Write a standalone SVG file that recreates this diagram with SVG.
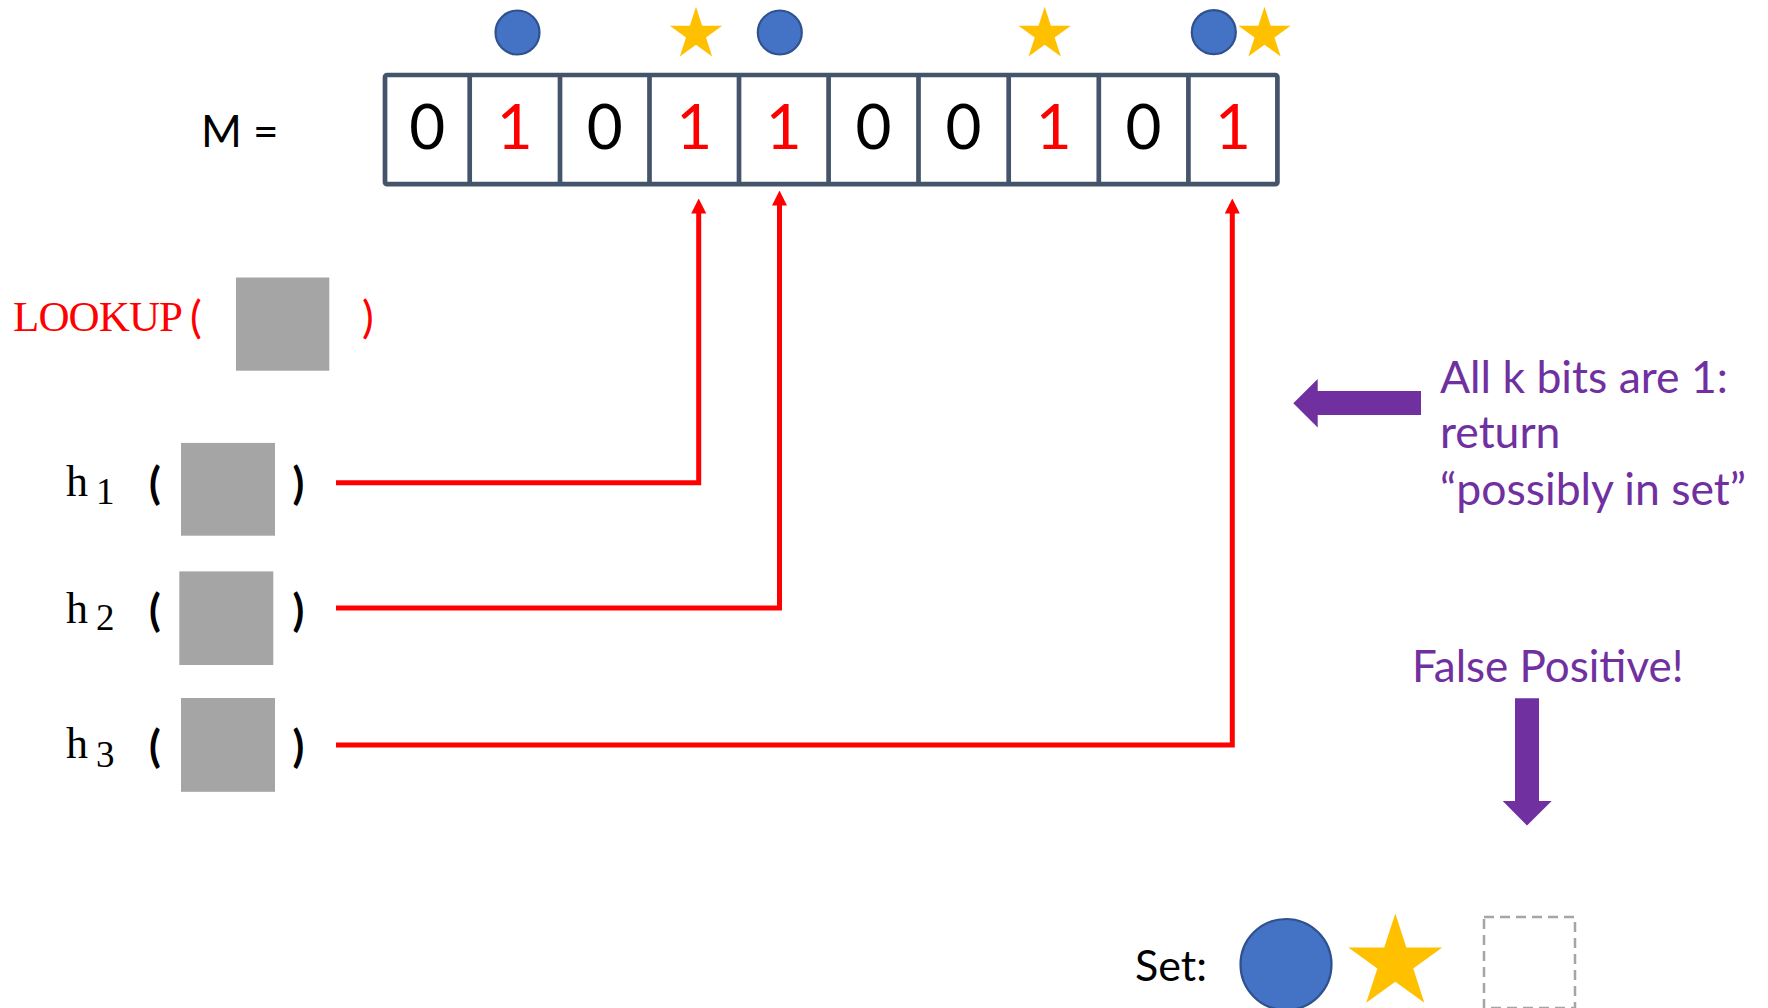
<svg xmlns="http://www.w3.org/2000/svg" width="1768" height="1008" viewBox="0 0 1768 1008">
  <style>
    .sans { font-family: Lato, "Open Sans", "Liberation Sans", sans-serif; }
    .code { font-family: "Liberation Serif", "DejaVu Serif", serif; }
    .bit { font-family: Lato, "Open Sans", "Liberation Sans", sans-serif; font-size: 62px; text-anchor: middle; }
    .zero { fill: #000000; }
    .one { fill: #FF0000; }
    .cell { fill: #FFFFFF; stroke: #44546A; stroke-width: 4.7; }
    .dot { fill: #4472C4; stroke: #2F528F; stroke-width: 2.2; }
    .star { fill: #FFC000; }
    .item { fill: #A5A5A5; }
    .purple { fill: #7030A0; }
    .wire { fill: none; stroke: #FF0000; stroke-width: 5; stroke-linejoin: miter; marker-end: url(#head); }
  </style>
  <defs>
    <marker id="head" viewBox="0 0 15 15" markerWidth="15" markerHeight="15" markerUnits="userSpaceOnUse" refX="0.5" refY="7.5" orient="auto">
      <path d="M0,0 L15,7.5 L0,15 z" fill="#FF0000"/>
    </marker>
    <polygon id="star5" points="0,-27.5 6.17,-8.49 26.15,-8.5 9.99,3.24 16.16,22.25 0,10.5 -16.16,22.25 -9.99,3.24 -26.15,-8.5 -6.17,-8.49"/>
  </defs>

  <!-- bit array M -->
  <g id="array">
    <text class="sans" x="201" y="146.7" font-size="44">M =</text>
    <rect class="cell" x="385" y="75" width="892.4" height="109.2" rx="2"/>
    <g stroke="#44546A" stroke-width="4.7">
      <line x1="469.7" y1="75" x2="469.7" y2="184.2"/>
      <line x1="560" y1="75" x2="560" y2="184.2"/>
      <line x1="649.5" y1="75" x2="649.5" y2="184.2"/>
      <line x1="739" y1="75" x2="739" y2="184.2"/>
      <line x1="828.6" y1="75" x2="828.6" y2="184.2"/>
      <line x1="918.5" y1="75" x2="918.5" y2="184.2"/>
      <line x1="1008.7" y1="75" x2="1008.7" y2="184.2"/>
      <line x1="1098.8" y1="75" x2="1098.8" y2="184.2"/>
      <line x1="1188.4" y1="75" x2="1188.4" y2="184.2"/>
    </g>
    <text class="bit zero" x="427.3" y="148.5">0</text>
    <text class="bit one" x="514.8" y="148.5">1</text>
    <text class="bit zero" x="604.7" y="148.5">0</text>
    <text class="bit one" x="694.2" y="148.5">1</text>
    <text class="bit one" x="783.8" y="148.5">1</text>
    <text class="bit zero" x="873.5" y="148.5">0</text>
    <text class="bit zero" x="963.6" y="148.5">0</text>
    <text class="bit one" x="1053.7" y="148.5">1</text>
    <text class="bit zero" x="1143.6" y="148.5">0</text>
    <text class="bit one" x="1232.9" y="148.5">1</text>
  </g>

  <!-- markers above the array -->
  <g id="marks">
    <circle class="dot" cx="517.5" cy="32.5" r="22"/>
    <circle class="dot" cx="779.8" cy="32.5" r="22"/>
    <circle class="dot" cx="1213.8" cy="32.2" r="22"/>
    <use href="#star5" class="star" transform="translate(696,34.2)"/>
    <use href="#star5" class="star" transform="translate(1044.7,34.2)"/>
    <use href="#star5" class="star" transform="translate(1264.5,34.2)"/>
  </g>

  <!-- lookup call -->
  <g id="lookup">
    <text class="code" x="13" y="331.4" font-size="43" fill="#FF0000" textLength="170" lengthAdjust="spacing">LOOKUP</text>
    <text class="sans" x="190" y="333" font-size="44" fill="#FF0000">(</text>
    <rect class="item" x="236" y="277.5" width="93.3" height="93.2"/>
    <text class="sans" x="362" y="333" font-size="44" fill="#FF0000">)</text>
  </g>

  <!-- hash functions -->
  <g id="h1">
    <text class="code" x="66" y="495.7" font-size="44">h</text>
    <text class="code" x="96" y="503.6" font-size="37">1</text>
    <text class="sans" x="149" y="499" font-size="43" font-weight="bold">(</text>
    <rect class="item" x="181" y="442.9" width="94" height="92.8"/>
    <text class="sans" x="292.5" y="499" font-size="43" font-weight="bold">)</text>
  </g>
  <g id="h2">
    <text class="code" x="66" y="622.5" font-size="44">h</text>
    <text class="code" x="96" y="629.6" font-size="37">2</text>
    <text class="sans" x="149" y="626" font-size="43" font-weight="bold">(</text>
    <rect class="item" x="179.3" y="571.4" width="94" height="93.6"/>
    <text class="sans" x="292.5" y="626" font-size="43" font-weight="bold">)</text>
  </g>
  <g id="h3">
    <text class="code" x="66" y="757.9" font-size="44">h</text>
    <text class="code" x="96" y="766.8" font-size="37">3</text>
    <text class="sans" x="149" y="762" font-size="43" font-weight="bold">(</text>
    <rect class="item" x="181" y="698" width="94" height="93.8"/>
    <text class="sans" x="292.5" y="762" font-size="43" font-weight="bold">)</text>
  </g>

  <!-- hash outputs pointing into the array -->
  <g id="connectors">
    <path class="wire" d="M336,482.8 H698.7 V213"/>
    <path class="wire" d="M336,608 H779.5 V205"/>
    <path class="wire" d="M336,745 H1232.3 V213"/>
  </g>

  <!-- result note -->
  <g id="result">
    <polygon class="purple" points="1293.3,403.2 1317.7,379 1317.7,391 1421,391 1421,415 1317.7,415 1317.7,427.5"/>
    <text class="sans purple" font-size="44.5">
      <tspan x="1440" y="393.3">All k bits are 1:</tspan>
      <tspan x="1440" y="448.3">return</tspan>
      <tspan x="1440" y="505">“possibly in set”</tspan>
    </text>
  </g>

  <g id="false-positive">
    <text class="sans purple" x="1412" y="681.7" font-size="44">False Positive!</text>
    <polygon class="purple" points="1515,698.3 1539,698.3 1539,801 1551.7,801 1527,825.4 1502.7,801 1515,801"/>
  </g>

  <!-- set contents -->
  <g id="set">
    <text class="sans" x="1135" y="980.7" font-size="43">Set:</text>
    <circle class="dot" cx="1286" cy="964.5" r="45.5" stroke-width="2.5"/>
    <use href="#star5" class="star" transform="translate(1395.3,962.8) scale(1.796)"/>
    <rect x="1484" y="917" width="91" height="91" fill="none" stroke="#A5A5A5" stroke-width="2.5" stroke-dasharray="10 6"/>
  </g>
</svg>
